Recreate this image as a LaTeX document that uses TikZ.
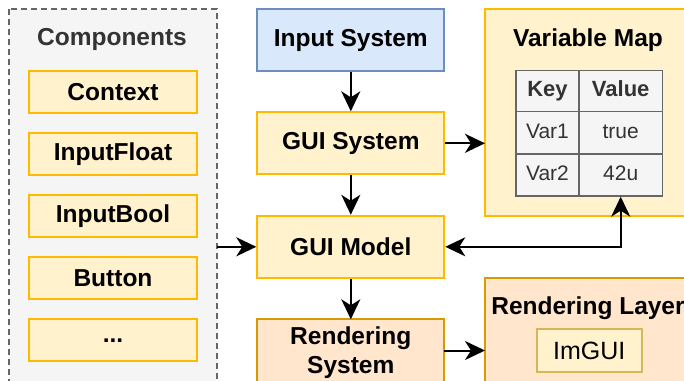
\documentclass[tikz,border=0pt]{standalone}
\usepackage{fontspec}
\setmainfont{Liberation Sans}
\usetikzlibrary{arrows.meta,calc}
\definecolor{ylfill}{HTML}{FFF2CC}
\definecolor{ylline}{HTML}{FFB900}
\definecolor{blfill}{HTML}{DAE8FC}
\definecolor{blline}{HTML}{6C8EBF}
\definecolor{orfill}{HTML}{FFE6CC}
\definecolor{orline}{HTML}{D79B00}
\definecolor{gyfill}{HTML}{F5F5F5}
\definecolor{gyline}{HTML}{666666}
\definecolor{gytext}{HTML}{333333}
\definecolor{imline}{HTML}{D6B656}
\tikzset{
  box/.style={rectangle, line width=2pt, inner sep=0pt, align=center, font=\fontsize{24.5}{29}\selectfont\bfseries},
  ybox/.style={box, fill=ylfill, draw=ylline},
  compbox/.style={ybox, minimum width=168pt, minimum height=42pt},
  midbox/.style={box, minimum width=187pt, minimum height=62pt},
  cell/.style={rectangle, draw=gyline, fill=gyfill, line width=1.5pt, text=gytext, inner sep=0pt, minimum height=42pt, text height=15pt, text depth=4pt, font=\fontsize{21}{25}\selectfont},
  hcell/.style={cell, font=\fontsize{22}{26}\selectfont\bfseries},
  arr/.style={line width=2pt, -{Stealth[length=20pt,width=19pt,inset=6pt]}},
  darr/.style={line width=2pt, {Stealth[length=20pt,width=19pt,inset=6pt]}-{Stealth[length=20pt,width=19pt,inset=6pt]}},
  title/.style={font=\fontsize{24.5}{29}\selectfont\bfseries, inner sep=0pt}
}
\begin{document}
\begin{tikzpicture}[x=1pt,y=-1pt]
\useasboundingbox (0,0) rectangle (684,380);
\clip (0,0) rectangle (684,380);
\fill[white] (0,0) rectangle (684,380);
% Components container
\draw[gyline, fill=gyfill, line width=1.5pt, dash pattern=on 6pt off 4pt] (9,9) rectangle (217,420);
\coordinate (compE) at (217,246.8);
\node[title, text=gytext] (comptitle) at (112,39) {Components};
\node[compbox] (c1) at (113,91.7) {Context};
\node[compbox] (c2) at (113,153.8) {InputFloat};
\node[compbox] (c3) at (113,216.2) {InputBool};
\node[compbox] (c4) at (113,278.2) {Button};
\node[compbox] (c5) at (113,340.3) {...};
% middle column
\node[midbox, fill=blfill, draw=blline] (inp) at (350.8,40) {Input System};
\node[midbox, fill=ylfill, draw=ylline] (gsys) at (350.8,143.3) {GUI System};
\node[midbox, fill=ylfill, draw=ylline] (gmod) at (350.8,246.8) {GUI Model};
\draw[line width=2pt, fill=orfill, draw=orline] (257.3,319.3) rectangle (444.3,420);
\node[box, inner sep=0pt] (rsys) at (350.8,352.5) {Rendering\\System};
\coordinate (rsysE) at (444.3,350.5);
\coordinate (rsysN) at (350.8,319.3);
% Variable map
\draw[line width=2pt, fill=ylfill, draw=ylline] (485,9) rectangle (691,216);
\coordinate (vmW) at (485,143.3);
\node[title] (vmtitle) at (588,40) {Variable Map};
\node[hcell, minimum width=63pt] (k0) at (547.5,91.3) {Key};
\node[hcell, minimum width=83.3pt] (v0) at (620.7,91.3) {Value};
\node[cell, minimum width=63pt] (k1) at (547.5,132.7) {Var1};
\node[cell, minimum width=83.3pt] (v1) at (620.7,132.7) {true};
\node[cell, minimum width=63pt] (k2) at (547.5,174.9) {Var2};
\node[cell, minimum width=83.3pt] (v2) at (620.7,174.9) {42u};
% Rendering layer
\draw[line width=2pt, fill=orfill, draw=orline] (485,278.3) rectangle (691,420);
\coordinate (rlW) at (485,350.5);
\node[title] (rltitle) at (588,308) {Rendering Layer};
\node[rectangle, draw=imline, fill=ylfill, line width=2pt, minimum width=105pt, minimum height=42.4pt, inner sep=0pt, font=\fontsize{25}{29}\selectfont] (imgui) at (589.2,350.5) {ImGUI};
% connectors
\draw[arr] (inp) -- (gsys);
\draw[arr] (gsys) -- (gmod);
\draw[arr] (gmod.south) -- (rsysN);
\draw[arr] (gsys.east) -- (vmW);
\draw[arr] (compE) -- (gmod.west);
\draw[darr] (gmod.east) -| (v2.south);
\draw[arr] (rsysE) -- (rlW);
\end{tikzpicture}
\end{document}
